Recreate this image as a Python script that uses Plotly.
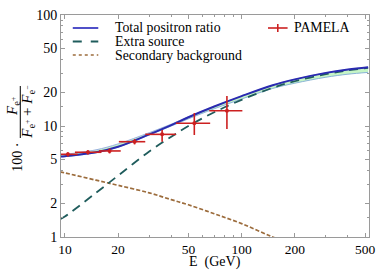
import plotly.graph_objects as go

# ---- data ----
E_grid = [9.4, 10, 15, 20, 30, 40, 50, 70, 100, 150, 200, 300, 400, 520]
total_ratio = [5.3, 5.35, 5.8, 6.5, 8.4, 10.2, 12.0, 15.0, 18.6, 23.3, 26.3, 30.1, 32.3, 33.9]
extra_source = [1.45, 1.53, 2.5, 3.57, 5.9, 8.0, 10.0, 13.3, 17.2, 22.1, 25.3, 29.3, 31.7, 33.4]
secondary_bg = [3.86, 3.78, 3.25, 2.92, 2.5, 2.17, 1.95, 1.62, 1.32, 1.0, 0.85, 0.65, 0.55, 0.47]
band_lo = [5.3, 5.3, 5.75, 6.45, 8.3, 10.0, 11.6, 14.3, 17.5, 21.8, 24.3, 27.5, 29.3, 30.4]
band_hi = [5.5, 5.55, 6.1, 6.9, 8.7, 10.4, 12.1, 15.0, 18.6, 23.3, 26.3, 30.1, 32.3, 33.9]

pam_E = [10.4, 13.5, 17.9, 24.8, 35.5, 54.0, 82.6]
pam_E_lo = [9.4, 11.4, 15.6, 20.2, 28.5, 42.5, 65.6]
pam_E_hi = [11.8, 16.1, 20.7, 28.5, 42.5, 66.4, 101.0]
pam_val = [5.56, 5.80, 5.96, 7.22, 8.41, 10.6, 13.7]
pam_err_up = [0.25, 0.25, 0.3, 0.4, 0.8, 2.5, 4.9]
pam_err_dn = [0.25, 0.25, 0.3, 0.4, 1.2, 2.3, 4.3]

x_ticks = [10, 20, 50, 100, 200, 500]
y_ticks = [1, 2, 5, 10, 20, 50, 100]

FONT = "Liberation Serif"
BLUE = "#2a2ab0"
TEAL = "#1f5c5c"
BROWN = "#9c6c3c"
RED = "#cc2020"
GRID = "#9a9a9a"

fig = go.Figure()

fig.add_trace(go.Scatter(x=E_grid, y=band_lo, mode="lines", line_shape="spline",
                         line=dict(color="#8ab4d8", width=1), hoverinfo="skip"))
fig.add_trace(go.Scatter(x=E_grid, y=band_hi, mode="lines", fill="tonexty", line_shape="spline",
                         fillcolor="#c6f5c6", line=dict(color="#9ab0e0", width=1),
                         hoverinfo="skip"))
fig.add_trace(go.Scatter(x=E_grid, y=secondary_bg, mode="lines", line_shape="spline",
                         line=dict(color=BROWN, width=1.7, dash="4px,2px")))
fig.add_trace(go.Scatter(x=E_grid, y=extra_source, mode="lines", line_shape="spline",
                         line=dict(color=TEAL, width=1.8, dash="9px,6px")))
fig.add_trace(go.Scatter(x=E_grid, y=total_ratio, mode="lines", line_shape="spline",
                         line=dict(color=BLUE, width=2)))

ex_plus = [h - e for h, e in zip(pam_E_hi, pam_E)]
ex_minus = [e - l for e, l in zip(pam_E, pam_E_lo)]
fig.add_trace(go.Scatter(
    x=pam_E, y=pam_val, mode="markers",
    marker=dict(color=RED, size=4),
    error_x=dict(type="data", array=ex_plus, arrayminus=ex_minus, symmetric=False,
                 color=RED, thickness=1.6, width=0),
    error_y=dict(type="data", array=pam_err_up, arrayminus=pam_err_dn, symmetric=False,
                 color=RED, thickness=1.6, width=0),
))

# ---- layout ----
L, R, T, B = 61, 375, 15, 237
W, H = 382, 271


def px(xp):
    return (xp - L) / (R - L)


def py(yp):
    return (B - yp) / (B - T)


shapes = []
annotations = []

legend_rows = [
    ("Total positron ratio", dict(color="#5050c8", width=2)),
    ("Extra source", dict(color=TEAL, width=1.8, dash="dash")),
    ("Secondary background", dict(color=BROWN, width=1.4, dash="dot")),
]
for i, (label, ln) in enumerate(legend_rows):
    yy = 28 + i * 13.5
    shapes.append(dict(type="line", xref="paper", yref="paper",
                       x0=px(73), x1=px(99), y0=py(yy), y1=py(yy), line=ln))
    annotations.append(dict(text=label, xref="paper", yref="paper", x=px(114), y=py(yy),
                            xanchor="left", yanchor="middle", showarrow=False,
                            font=dict(family=FONT, size=13.8, color="black")))

# PAMELA legend entry
shapes.append(dict(type="line", xref="paper", yref="paper", x0=px(272), x1=px(292),
                   y0=py(28), y1=py(28), line=dict(color=RED, width=1.6)))
shapes.append(dict(type="line", xref="paper", yref="paper", x0=px(282), x1=px(282),
                   y0=py(24), y1=py(32), line=dict(color=RED, width=1.6)))
annotations.append(dict(text="PAMELA", xref="paper", yref="paper", x=px(296), y=py(28),
                        xanchor="left", yanchor="middle", showarrow=False,
                        font=dict(family=FONT, size=13.8, color="black")))

# x-axis title
annotations.append(dict(text="E\u00a0\u00a0(GeV)", xref="paper", yref="paper", x=px(218),
                        y=py(262), xanchor="center", yanchor="middle", showarrow=False,
                        font=dict(family=FONT, size=14, color="black")))

# y-axis title as a rotated fraction
annotations.append(dict(text="100 ·", xref="paper", yref="paper", x=px(16), y=py(157),
                        xanchor="center", yanchor="middle", showarrow=False, textangle=-90,
                        font=dict(family=FONT, size=14, color="black")))
annotations.append(dict(text="<i>F</i><sub>e<sup>+</sup></sub>", xref="paper", yref="paper",
                        x=px(12), y=py(106), xanchor="center", yanchor="middle",
                        showarrow=False, textangle=-90,
                        font=dict(family=FONT, size=15, color="black")))
annotations.append(dict(text="<i>F</i><sub>e<sup>+</sup></sub> + <i>F</i><sub>e<sup>−</sup></sub>",
                        xref="paper", yref="paper",
                        x=px(27), y=py(112), xanchor="center", yanchor="middle",
                        showarrow=False, textangle=-90,
                        font=dict(family=FONT, size=15, color="black")))
shapes.append(dict(type="line", xref="paper", yref="paper", x0=px(19.5), x1=px(19.5),
                   y0=py(86), y1=py(138), line=dict(color="black", width=1)))

fig.update_layout(
    width=W, height=H,
    margin=dict(l=L, r=W - R, t=T, b=H - B, pad=0),
    paper_bgcolor="white", plot_bgcolor="white",
    showlegend=False,
    shapes=shapes, annotations=annotations,
    font=dict(family=FONT, size=14, color="black"),
)
fig.update_xaxes(
    type="log", range=[0.978, 2.721],
    tickvals=x_ticks, ticktext=[str(v) for v in x_ticks],
    ticks="inside", ticklen=4, tickcolor=GRID, tickwidth=1,
    showline=True, linecolor=GRID, linewidth=1, mirror="allticks",
    showgrid=False, zeroline=False,
    minor=dict(tickvals=[30, 40, 60, 70, 80, 90, 300, 400], ticks="inside",
               ticklen=2, tickcolor=GRID, showgrid=False),
    tickfont=dict(family=FONT, size=13.5, color="black"),
    ticklabeloverflow="allow",
)
fig.update_yaxes(
    type="log", range=[0, 2],
    tickvals=y_ticks, ticktext=[str(v) for v in y_ticks],
    ticks="inside", ticklen=4, tickcolor=GRID, tickwidth=1,
    showline=True, linecolor=GRID, linewidth=1, mirror="allticks",
    showgrid=False, zeroline=False,
    minor=dict(tickvals=[1.5, 3, 4, 6, 7, 8, 9, 15, 30, 40, 60, 70, 80, 90], ticks="inside",
               ticklen=2, tickcolor=GRID, showgrid=False),
    tickfont=dict(family=FONT, size=14, color="black"),
)

fig.write_html("out.html", config={"displayModeBar": False})

# remove the browser's default page margin so the figure sits at the top-left corner
with open("out.html", "r", encoding="utf-8") as f:
    html = f.read()
html = html.replace("<head>", "<head><style>html,body{margin:0;padding:0;overflow:hidden;}</style>", 1)
with open("out.html", "w", encoding="utf-8") as f:
    f.write(html)
